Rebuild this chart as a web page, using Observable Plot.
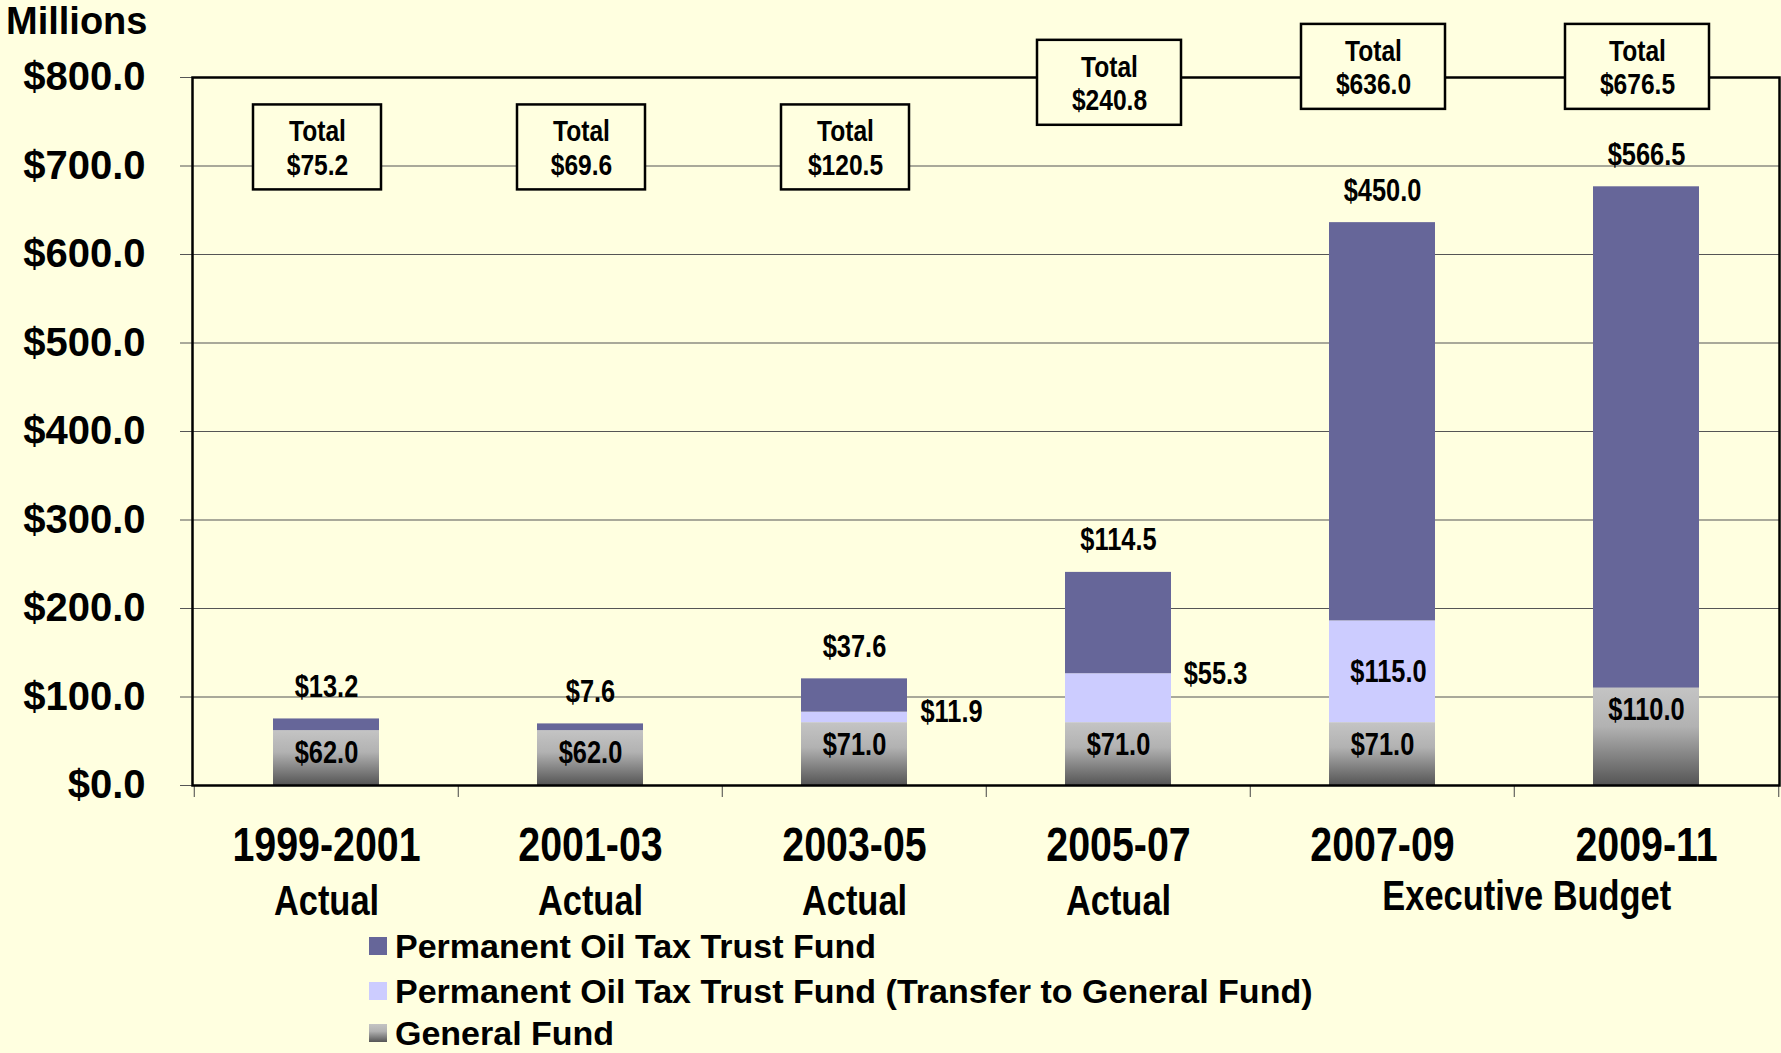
<!DOCTYPE html>
<html><head><meta charset="utf-8">
<script src="https://cdn.jsdelivr.net/npm/d3@7"></script>
<script src="https://cdn.jsdelivr.net/npm/@observablehq/plot@0.6"></script>
<style>
html,body{margin:0;padding:0;background:#FFFFE0;}
#wrap{position:relative;width:1781px;height:1053px;overflow:hidden;background:#FFFFE0;}
#chart{position:absolute;left:0;top:0;}
#title{position:absolute;left:6px;top:0px;font:bold 38px "Liberation Sans",Arial,sans-serif;line-height:normal;color:#000;}
#legend{position:absolute;left:369px;top:925px;font:bold 34px "Liberation Sans",Arial,sans-serif;color:#000;}
.li{position:absolute;left:0;white-space:nowrap;height:30px;line-height:30px;display:flex;align-items:center;}
.sw{width:18px;height:18px;margin-right:8px;flex:none;}
</style></head><body>
<div id="wrap">
<svg width="0" height="0" style="position:absolute">
  <defs>
    <linearGradient id="gfGrad" x1="0" y1="0" x2="0" y2="1">
      <stop offset="0" stop-color="#c4c4c4"/>
      <stop offset="0.4" stop-color="#b2b2b2"/>
      <stop offset="1" stop-color="#555555"/>
    </linearGradient>
  </defs>
</svg>
<div id="chart"></div>
<div id="title">Millions</div>
<div id="legend"></div>
</div>
<script>
// ---------- data ----------
const categories = ["1999-2001", "2001-03", "2003-05", "2005-07", "2007-09", "2009-11"];
const periodLabels = ["Actual", "Actual", "Actual", "Actual"];
const budgetLabel = "Executive Budget";
const funds = [
  "General Fund",
  "Permanent Oil Tax Trust Fund (Transfer to General Fund)",
  "Permanent Oil Tax Trust Fund"
];
const generalFund   = [62.0, 62.0, 71.0, 71.0, 71.0, 110.0];
const transferToGF  = [0, 0, 11.9, 55.3, 115.0, 0];
const permanentFund = [13.2, 7.6, 37.6, 114.5, 450.0, 566.5];
const totals        = [75.2, 69.6, 120.5, 240.8, 636.0, 676.5];
const yTicks = [0, 100, 200, 300, 400, 500, 600, 700, 800];
// annotation layout: vertical level (in $ millions) of each "Total" box centre
const totalBoxLevel = [721, 721, 721, 794, 812, 812];

// ---------- layout ----------
const W = 1781, H = 925;
const mL = 192, mR = 2, mT = 77, mB = H - 785;
const padIn = 0.6, padOut = 0.3;
const step = (W - mL - mR) / (categories.length - padIn + 2 * padOut);
const BG = "#FFFFE0";
const NARROW = "'Liberation Sans Narrow','Liberation Sans',Arial,sans-serif";
const SANS = "'Liberation Sans',Arial,sans-serif";
const fundColors = ["url(#gfGrad)", "#CCCCFF", "#666699"];
const fmt = v => "$" + v.toFixed(1);

const rows = categories.flatMap((c, i) => [
  {cat: c, fund: funds[0], value: generalFund[i]},
  {cat: c, fund: funds[1], value: transferToGF[i]},
  {cat: c, fund: funds[2], value: permanentFund[i]}
]);
const idx = categories.map((c, i) => i);
const gfLabels = idx.map(i => ({cat: categories[i], y: generalFund[i], text: fmt(generalFund[i])}));
const potLabels = idx.map(i => ({cat: categories[i], y: totals[i], text: fmt(permanentFund[i])}));
const trLabels = idx.filter(i => transferToGF[i] > 0).map(i => ({
  cat: categories[i],
  inside: transferToGF[i] > 100,
  y: transferToGF[i] > 100 ? generalFund[i] + transferToGF[i] / 2 : generalFund[i] + transferToGF[i],
  text: fmt(transferToGF[i])
}));
const boxes = idx.map(i => ({cat: categories[i], level: totalBoxLevel[i], text: "Total\n" + fmt(totals[i]), wide: totalBoxLevel[i] > 760}));

const boxOpts = (wide) => ({
  x: "cat", y1: d => d.level - 48, y2: d => d.level + 48,
  insetLeft: wide ? -19 : -11, insetRight: wide ? -19 : -11, dx: -9,
  fill: BG, stroke: "#000", strokeWidth: 2.5
});
const lbl = {fontSize: 31, fontWeight: "bold", fontFamily: NARROW, fill: "#000"};

const chart = Plot.plot({
  width: W, height: H,
  marginLeft: mL, marginRight: mR, marginTop: mT, marginBottom: mB,
  style: {background: "transparent", overflow: "visible"},
  x: {type: "band", domain: categories, paddingInner: padIn, paddingOuter: padOut, axis: null},
  y: {domain: [0, 800], axis: null},
  color: {type: "ordinal", domain: funds, range: fundColors},
  marks: [
    Plot.gridY(yTicks, {stroke: "#555", strokeOpacity: 1, strokeWidth: 1.2}),
    Plot.axisY(yTicks, {
      tickSize: 12, tickPadding: 35, stroke: "#555", label: null,
      tickFormat: fmt, fontSize: 40, fontWeight: "bold", fontFamily: SANS, fill: "#000"
    }),
    Plot.axisX(categories, {tickSize: 12, dx: -step / 2, tickFormat: () => "", stroke: "#444", label: null}),
    Plot.axisX(categories.slice(-1), {tickSize: 12, dx: step / 2, tickFormat: () => "", stroke: "#444", label: null}),
    Plot.barY(rows, {x: "cat", y: "value", fill: "fund", order: null}),
    Plot.frame({stroke: "#000", strokeWidth: 2.5}),
    Plot.barY(boxes.filter(d => !d.wide), boxOpts(false)),
    Plot.barY(boxes.filter(d => d.wide), boxOpts(true)),
    Plot.text(boxes, {x: "cat", y: "level", text: "text", dx: -9, lineHeight: 1.12, ...lbl, fontSize: 30}),
    Plot.text(gfLabels, {x: "cat", y: "y", text: "text", dy: 22, ...lbl}),
    Plot.text(potLabels, {x: "cat", y: "y", text: "text", dy: -32, ...lbl}),
    Plot.text(trLabels.filter(d => d.inside), {x: "cat", y: "y", text: "text", dx: 6, ...lbl}),
    Plot.text(trLabels.filter(d => !d.inside), {x: "cat", y: "y", text: "text", dx: 97, ...lbl}),
    Plot.text(categories, {x: d => d, frameAnchor: "bottom", lineAnchor: "middle", dy: 60, text: d => d,
      ...lbl, fontSize: 48}),
    Plot.text(periodLabels, {x: (d, i) => categories[i], frameAnchor: "bottom", lineAnchor: "middle", dy: 116,
      text: d => d, ...lbl, fontSize: 42}),
    Plot.text([budgetLabel], {x: () => categories[4], frameAnchor: "bottom", lineAnchor: "middle", dy: 111,
      dx: step / 2 + 12, text: d => d, ...lbl, fontSize: 42})
  ]
});
// condense the narrow-face labels horizontally (Arial Narrow look)
d3.select(chart).selectAll('g[font-family*="Narrow"] text').attr("transform", function () {
  return (this.getAttribute("transform") || "") + " scale(0.82,1)";
});
document.getElementById("chart").appendChild(chart);

// legend
const legend = document.getElementById("legend");
const legendOrder = [2, 1, 0];
const rowTops = [6, 51, 93];
legendOrder.forEach((k, j) => {
  const it = document.createElement("div");
  it.className = "li";
  it.style.top = rowTops[j] + "px";
  const sw = document.createElement("div");
  sw.className = "sw";
  sw.style.background = k === 0 ? "linear-gradient(#c4c4c4, #b2b2b2 40%, #555555)" : fundColors[k];
  const tx = document.createElement("span");
  tx.textContent = funds[k];
  it.appendChild(sw); it.appendChild(tx);
  legend.appendChild(it);
});
</script>
</body></html>
